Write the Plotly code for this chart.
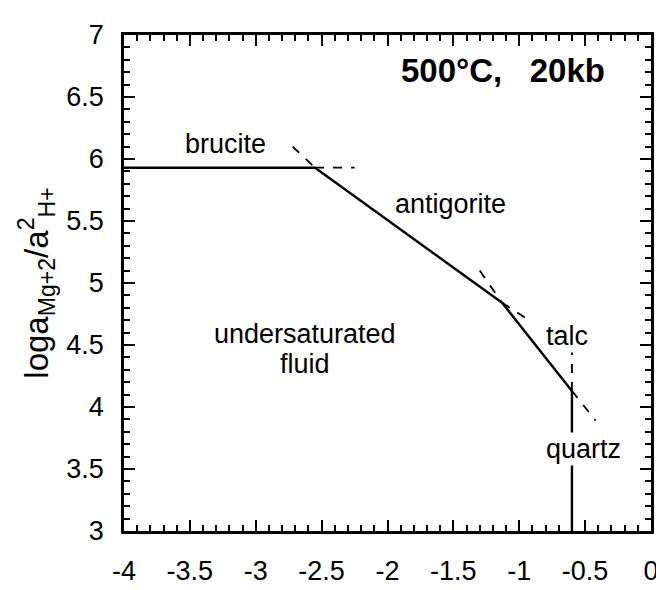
import plotly.graph_objects as go

# Phase boundary data (x = log a_SiO2(aq), y = log a_Mg+2 / a^2_H+)
brucite_x = [-4.0, -2.55]
brucite_y = [5.93, 5.93]
brucite_dash_x = [-2.55, -2.25]
brucite_dash_y = [5.93, 5.93]

antigorite_x = [-2.55, -1.13]
antigorite_y = [5.93, 4.84]
antigorite_dash_up_x = [-2.72, -2.55]
antigorite_dash_up_y = [6.10, 5.93]
antigorite_dash_x = [-1.13, -0.91]
antigorite_dash_y = [4.84, 4.69]

talc_x = [-1.13, -0.60]
talc_y = [4.84, 4.13]
talc_dash_up_x = [-1.30, -1.13]
talc_dash_up_y = [5.10, 4.84]
talc_dash_x = [-0.60, -0.42]
talc_dash_y = [4.13, 3.89]

quartz_x = [-0.60, -0.60]
quartz_y = [4.13, 3.0]
quartz_dash_x = [-0.60, -0.60]
quartz_dash_y = [4.13, 4.44]

# Field labels
label_text = ["brucite", "antigorite", "undersaturated", "fluid", "talc", "quartz"]
label_x = [-3.23, -1.52, -2.63, -2.63, -0.64, -0.51]
label_y = [6.12, 5.64, 4.59, 4.35, 4.57, 3.66]

title_text = "500°C,\u00a0\u00a0\u00a020kb"
title_x = -1.12
title_y = 6.71

x_ticks = [-4, -3.5, -3, -2.5, -2, -1.5, -1, -0.5, 0]
y_ticks = [3, 3.5, 4, 4.5, 5, 5.5, 6, 6.5, 7]

FONT = "Liberation Sans, Arial, Helvetica"

fig = go.Figure()

solid = dict(color="black", width=2.4)
dashed = dict(color="black", width=1.8, dash="dash")

for xs, ys, ln in [
    (brucite_x, brucite_y, solid),
    (brucite_dash_x, brucite_dash_y, dashed),
    (antigorite_x, antigorite_y, solid),
    (antigorite_dash_up_x, antigorite_dash_up_y, dashed),
    (antigorite_dash_x, antigorite_dash_y, dashed),
    (talc_x, talc_y, solid),
    (talc_dash_up_x, talc_dash_up_y, dashed),
    (talc_dash_x, talc_dash_y, dashed),
    (quartz_x, quartz_y, solid),
    (quartz_dash_x, quartz_dash_y, dashed),
]:
    fig.add_trace(go.Scatter(x=xs, y=ys, mode="lines", line=ln,
                             showlegend=False, hoverinfo="skip"))

for t, x, y in zip(label_text, label_x, label_y):
    fig.add_annotation(x=x, y=y, text=t, showarrow=False,
                       font=dict(family=FONT, size=27, color="black"),
                       bgcolor="white" if t == "quartz" else "rgba(0,0,0,0)",
                       borderpad=1)

fig.add_annotation(x=title_x, y=title_y, text="<b>" + title_text + "</b>", showarrow=False,
                   font=dict(family=FONT, size=33, color="black"))

axis_common = dict(
    showgrid=False, zeroline=False, showline=True, linecolor="black", linewidth=2.5,
    mirror="ticks", ticks="inside", ticklen=11, tickwidth=2, tickcolor="black",
    minor=dict(ticks="inside", ticklen=6, tickwidth=2, tickcolor="black", dtick=0.1, showgrid=False),
    tickfont=dict(family=FONT, size=27, color="black"),
)

fig.update_xaxes(range=[-4, 0], tickvals=x_ticks, ticktext=[f"{v:g}" for v in x_ticks],
                 ticklabelstandoff=14, **axis_common)
fig.update_yaxes(range=[3, 7], tickvals=y_ticks, ticktext=[f"{v:g}" for v in y_ticks],
                 ticklabelstandoff=12,
                 title=dict(text="loga<sub>Mg+2</sub>/a<sup>2</sup><sub>H+</sub>",
                            font=dict(family=FONT, size=33, color="black"),
                            standoff=8),
                 **axis_common)

fig.update_layout(
    width=664, height=590,
    margin=dict(l=116, r=21, t=20, b=59),
    plot_bgcolor="white", paper_bgcolor="white",
)

fig.write_html("out.html")
